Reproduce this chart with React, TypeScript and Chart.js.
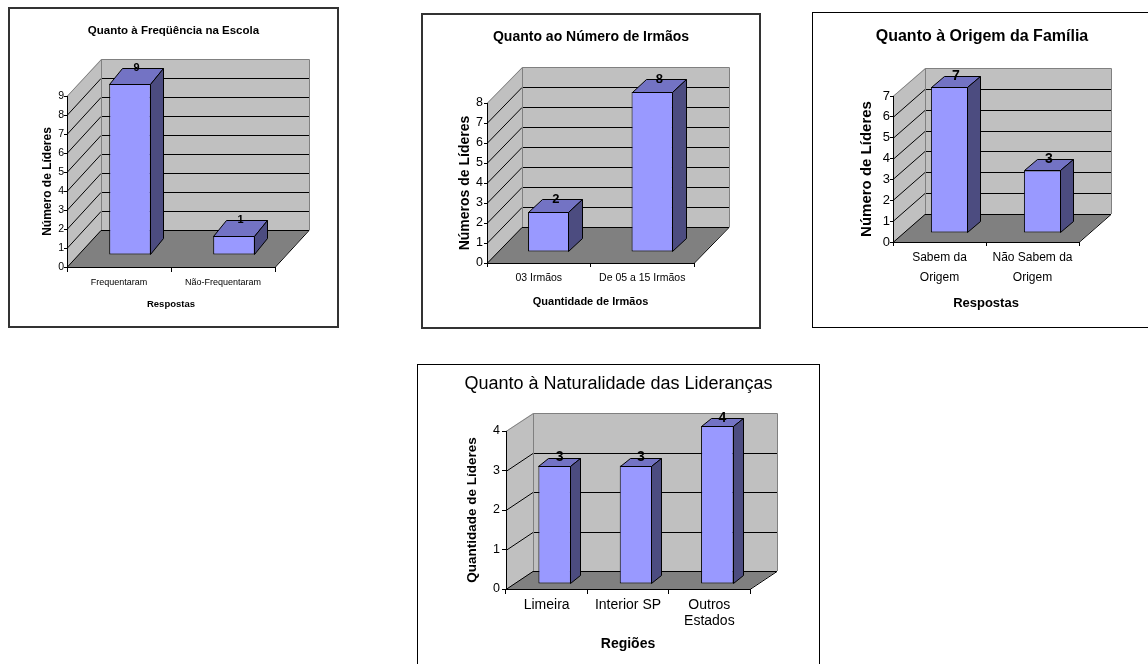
import React, { useEffect, useRef } from "react";
import { Chart, registerables } from "chart.js";

Chart.register(...registerables);

// ---------- DATA ----------
const freqCategories: (string | string[])[] = ["Frequentaram", "Não-Frequentaram"];
const freqValues = [9, 1];
const freqMax = 9;

const irmaosCategories: (string | string[])[] = ["03 Irmãos", "De 05 a 15 Irmãos"];
const irmaosValues = [2, 8];
const irmaosMax = 8;

const origemCategories: (string | string[])[] = [["Sabem da", "Origem"], ["Não Sabem da", "Origem"]];
const origemValues = [7, 3];
const origemMax = 7;

const natCategories: (string | string[])[] = ["Limeira", "Interior SP", ["Outros", "Estados"]];
const natValues = [3, 3, 4];
const natMax = 4;

// ---------- LAYOUT / STYLE ----------
const FONT = "'Liberation Sans', Arial, Helvetica, sans-serif";

type Spec = {
  box: { x: number; y: number; w: number; h: number; bw: number; bc: string };
  front: { l: number; r: number; t: number; b: number };
  wall: { dx: number; dy: number };
  bar: { ox: number; oy: number; dx: number; dy: number; pct: number };
  title: { text: string; size: number; bold: boolean; cy: number };
  yTitle: { text: string; size: number; cx: number };
  xTitle: { text: string; size: number; cy: number };
  yTick: { size: number; len: number; pad: number };
  xTick: { size: number; lh: number; len: number; firstCy: number };
  valueSize: number;
  categories: (string | string[])[];
  values: number[];
  max: number;
};

const specs: Spec[] = [
  {
    box: { x: 8, y: 7, w: 331, h: 321, bw: 2, bc: "#333" },
    front: { l: 67, r: 275, t: 96, b: 267 },
    wall: { dx: 34, dy: -37 },
    bar: { ox: 11, oy: -12, dx: 13, dy: -16, pct: 0.4 },
    title: { text: "Quanto à Freqüência na Escola", size: 11.5, bold: true, cy: 31 },
    yTitle: { text: "Número de Líderes", size: 12, cx: 48 },
    xTitle: { text: "Respostas", size: 9.5, cy: 304 },
    yTick: { size: 10.5, len: 3, pad: 0 },
    xTick: { size: 9, lh: 10.8, len: 5, firstCy: 283 },
    valueSize: 11,
    categories: freqCategories,
    values: freqValues,
    max: freqMax,
  },
  {
    box: { x: 421, y: 13, w: 340, h: 316, bw: 2, bc: "#333" },
    front: { l: 487, r: 694, t: 103, b: 263 },
    wall: { dx: 35, dy: -36 },
    bar: { ox: 10, oy: -11, dx: 14, dy: -13, pct: 0.4 },
    title: { text: "Quanto ao Número de Irmãos", size: 14, bold: true, cy: 37 },
    yTitle: { text: "Números de Líderes", size: 14, cx: 465 },
    xTitle: { text: "Quantidade de Irmãos", size: 11, cy: 302 },
    yTick: { size: 12.5, len: 3, pad: 1 },
    xTick: { size: 10.5, lh: 12.6, len: 4, firstCy: 278 },
    valueSize: 13,
    categories: irmaosCategories,
    values: irmaosValues,
    max: irmaosMax,
  },
  {
    box: { x: 812, y: 12, w: 340, h: 316, bw: 1, bc: "#000" },
    front: { l: 893, r: 1079, t: 96, b: 242 },
    wall: { dx: 32, dy: -28 },
    bar: { ox: 10, oy: -9, dx: 13, dy: -11, pct: 0.4 },
    title: { text: "Quanto à Origem da Família", size: 16, bold: true, cy: 37 },
    yTitle: { text: "Número de Líderes", size: 15, cx: 867 },
    xTitle: { text: "Respostas", size: 13, cy: 303 },
    yTick: { size: 13, len: 3, pad: 0 },
    xTick: { size: 12, lh: 20, len: 4, firstCy: 258 },
    valueSize: 14,
    categories: origemCategories,
    values: origemValues,
    max: origemMax,
  },
  {
    box: { x: 417, y: 364, w: 403, h: 320, bw: 1, bc: "#000" },
    front: { l: 506, r: 750, t: 431, b: 589 },
    wall: { dx: 27, dy: -18 },
    bar: { ox: 8, oy: -5, dx: 10, dy: -8, pct: 0.4 },
    title: { text: "Quanto à Naturalidade das Lideranças", size: 18, bold: false, cy: 384 },
    yTitle: { text: "Quantidade de Líderes", size: 13.5, cx: 472 },
    xTitle: { text: "Regiões", size: 14, cy: 644 },
    yTick: { size: 12.5, len: 4, pad: 2 },
    xTick: { size: 14, lh: 16, len: 5, firstCy: 605 },
    valueSize: 14,
    categories: natCategories,
    values: natValues,
    max: natMax,
  },
];

const WALL = "#c0c0c0";
const FLOOR = "#808080";
const EDGE = "#808080";
const BAR_FRONT = "#9999ff";
const BAR_TOP = "#7373c4";
const BAR_SIDE = "#4c4c80";

// ---------- 3D PLUGIN ----------
const threeD = {
  id: "threeD",
  beforeDraw(chart: any, _args: any, opts: any) {
    const { ctx, chartArea } = chart;
    const { left: l, right: r, top: t, bottom: b } = chartArea;
    const y = chart.scales.y;
    const { wdx, wdy } = opts;
    ctx.save();
    ctx.fillStyle = WALL;
    ctx.fillRect(l + wdx, t + wdy, r - l, b - t);
    ctx.beginPath();
    ctx.moveTo(l, t);
    ctx.lineTo(l + wdx, t + wdy);
    ctx.lineTo(l + wdx, b + wdy);
    ctx.lineTo(l, b);
    ctx.closePath();
    ctx.fill();
    ctx.fillStyle = FLOOR;
    ctx.beginPath();
    ctx.moveTo(l, b);
    ctx.lineTo(r, b);
    ctx.lineTo(r + wdx, b + wdy);
    ctx.lineTo(l + wdx, b + wdy);
    ctx.closePath();
    ctx.fill();

    ctx.lineWidth = 1;
    ctx.strokeStyle = "#000";
    for (const tk of y.ticks) {
      if (tk.value >= y.max) continue;
      const py = Math.round(y.getPixelForValue(tk.value)) + 0.5;
      ctx.beginPath();
      ctx.moveTo(l, py);
      ctx.lineTo(l + wdx, py + wdy);
      ctx.lineTo(r + wdx, py + wdy);
      ctx.stroke();
    }
    ctx.beginPath();
    ctx.moveTo(r, b + 0.5);
    ctx.lineTo(r + wdx, b + wdy + 0.5);
    ctx.stroke();

    ctx.strokeStyle = EDGE;
    const tt = Math.round(t) + 0.5;
    ctx.beginPath();
    ctx.moveTo(l, tt);
    ctx.lineTo(l + wdx + 0.5, tt + wdy);
    ctx.lineTo(r + wdx + 0.5, tt + wdy);
    ctx.lineTo(r + wdx + 0.5, b + wdy);
    ctx.moveTo(l + wdx + 0.5, tt + wdy);
    ctx.lineTo(l + wdx + 0.5, b + wdy);
    ctx.stroke();
    ctx.restore();
  },
  beforeDatasetsDraw(chart: any, _args: any, opts: any) {
    chart.ctx.save();
    chart.ctx.translate(opts.ox, opts.oy);
  },
  afterDatasetsDraw(chart: any, _args: any, opts: any) {
    const ctx = chart.ctx;
    const meta = chart.getDatasetMeta(0);
    const { bdx, bdy } = opts;
    ctx.lineWidth = 1;
    ctx.strokeStyle = "#000";
    meta.data.forEach((bar: any) => {
      const { x, y, base, width } = bar.getProps(["x", "y", "base", "width"], true);
      const x0 = Math.round(x - width / 2) + 0.5;
      const x1 = Math.round(x + width / 2) - 0.5;
      const yt = Math.round(y) + 0.5;
      const yb = Math.round(base) - 0.5;
      ctx.fillStyle = BAR_TOP;
      ctx.beginPath();
      ctx.moveTo(x0, yt);
      ctx.lineTo(x0 + bdx, yt + bdy);
      ctx.lineTo(x1 + bdx, yt + bdy);
      ctx.lineTo(x1, yt);
      ctx.closePath();
      ctx.fill();
      ctx.stroke();
      ctx.fillStyle = BAR_SIDE;
      ctx.beginPath();
      ctx.moveTo(x1, yt);
      ctx.lineTo(x1 + bdx, yt + bdy);
      ctx.lineTo(x1 + bdx, yb + bdy);
      ctx.lineTo(x1, yb);
      ctx.closePath();
      ctx.fill();
      ctx.stroke();
    });
    ctx.restore();

    ctx.save();
    ctx.font = `bold ${opts.valueSize}px ${FONT}`;
    ctx.fillStyle = "#000";
    ctx.textAlign = "center";
    ctx.textBaseline = "middle";
    const data = chart.data.datasets[0].data;
    meta.data.forEach((bar: any, i: number) => {
      const { x, y } = bar.getProps(["x", "y"], true);
      ctx.fillText(String(data[i]), x + opts.ox + bdx / 2, y + opts.oy + bdy);
    });
    ctx.restore();
  },
};

function buildConfig(s: Spec): any {
  const bw = s.box.bw;
  const ix = s.box.x + bw;
  const iy = s.box.y + bw;
  const iw = s.box.w - 2 * bw;
  const ih = s.box.h - 2 * bw;
  const l = s.front.l - ix;
  const r = s.front.r - ix;
  const b = s.front.b - iy;
  const yWidth = l;
  const rightWidth = iw - r;
  const xHeight = ih - b;
  const tLh = s.title.size * 1.2;
  const titlePadTop = s.title.cy - iy - tLh / 2;
  const titlePadBottom = s.front.t - s.title.cy - tLh / 2;
  const xtLh = s.xTitle.size * 1.2;
  const xTitlePadBottom = iy + ih - s.xTitle.cy - xtLh / 2;
  const ytLh = s.yTitle.size * 1.2;
  const yTitlePadTop = s.yTitle.cx - ix - ytLh / 2;
  const xTickPad = s.xTick.firstCy - s.front.b - s.xTick.len - s.xTick.lh / 2;

  return {
    type: "bar",
    data: {
      labels: s.categories,
      datasets: [
        {
          data: s.values,
          backgroundColor: BAR_FRONT,
          borderColor: "#000",
          borderWidth: 1,
          borderSkipped: false,
          barPercentage: s.bar.pct,
          categoryPercentage: 1,
          clip: false,
        },
      ],
    },
    options: {
      responsive: false,
      maintainAspectRatio: false,
      animation: false,
      events: [],
      layout: { padding: 0 },
      plugins: {
        legend: { display: false },
        tooltip: { enabled: false },
        title: {
          display: true,
          text: s.title.text,
          color: "#000",
          font: { family: FONT, size: s.title.size, weight: s.title.bold ? "bold" : "normal", lineHeight: 1.2 },
          padding: { top: titlePadTop, bottom: titlePadBottom },
        },
        threeD: {
          wdx: s.wall.dx,
          wdy: s.wall.dy,
          ox: s.bar.ox,
          oy: s.bar.oy,
          bdx: s.bar.dx,
          bdy: s.bar.dy,
          valueSize: s.valueSize,
        },
      },
      scales: {
        x: {
          type: "category",
          offset: true,
          grid: {
            display: true,
            drawOnChartArea: false,
            drawTicks: true,
            tickLength: s.xTick.len,
            offset: true,
            color: "#000",
            lineWidth: 1,
          },
          border: { display: true, color: "#000", width: 1 },
          ticks: {
            color: "#000",
            autoSkip: false,
            maxRotation: 0,
            minRotation: 0,
            padding: xTickPad,
            font: { family: FONT, size: s.xTick.size, lineHeight: s.xTick.lh / s.xTick.size },
          },
          title: {
            display: true,
            text: s.xTitle.text,
            color: "#000",
            font: { family: FONT, size: s.xTitle.size, weight: "bold", lineHeight: 1.2 },
            padding: { top: 0, bottom: xTitlePadBottom },
          },
          afterFit: (sc: any) => {
            sc.height = xHeight;
          },
        },
        y: {
          type: "linear",
          position: "left",
          min: 0,
          max: s.max,
          grid: {
            display: true,
            drawOnChartArea: false,
            drawTicks: true,
            tickLength: s.yTick.len,
            color: "#000",
            lineWidth: 1,
          },
          border: { display: true, color: "#000", width: 1 },
          ticks: {
            stepSize: 1,
            color: "#000",
            padding: s.yTick.pad,
            font: { family: FONT, size: s.yTick.size },
          },
          title: {
            display: true,
            text: s.yTitle.text,
            color: "#000",
            font: { family: FONT, size: s.yTitle.size, weight: "bold", lineHeight: 1.2 },
            padding: { top: yTitlePadTop, bottom: 0 },
          },
          afterFit: (sc: any) => {
            sc.width = yWidth;
          },
        },
        // invisible spacer axis reserving room on the right for the 3D depth
        ySpace: {
          type: "linear",
          position: "right",
          display: true,
          grid: { display: false, drawTicks: false },
          border: { display: false },
          ticks: { display: false },
          title: { display: false },
          afterFit: (sc: any) => {
            sc.width = rightWidth;
          },
        },
      },
    },
    plugins: [threeD],
  };
}

function ChartBox({ spec }: { spec: Spec }) {
  const ref = useRef<HTMLCanvasElement | null>(null);
  const bw = spec.box.bw;
  const iw = spec.box.w - 2 * bw;
  const ih = spec.box.h - 2 * bw;
  useEffect(() => {
    if (!ref.current) return;
    const chart = new Chart(ref.current, buildConfig(spec));
    return () => chart.destroy();
  }, [spec]);
  return (
    <div
      style={{
        position: "absolute",
        left: spec.box.x,
        top: spec.box.y,
        width: spec.box.w,
        height: spec.box.h,
        boxSizing: "border-box",
        border: `${bw}px solid ${spec.box.bc}`,
        background: "#fff",
      }}
    >
      <canvas ref={ref} width={iw} height={ih} style={{ display: "block", width: iw, height: ih }} />
    </div>
  );
}

export default function App() {
  return (
    <div
      style={{
        position: "absolute",
        left: 0,
        top: 0,
        width: 1148,
        height: 664,
        overflow: "hidden",
        background: "#fff",
      }}
    >
      {specs.map((s, i) => (
        <ChartBox key={i} spec={s} />
      ))}
    </div>
  );
}
